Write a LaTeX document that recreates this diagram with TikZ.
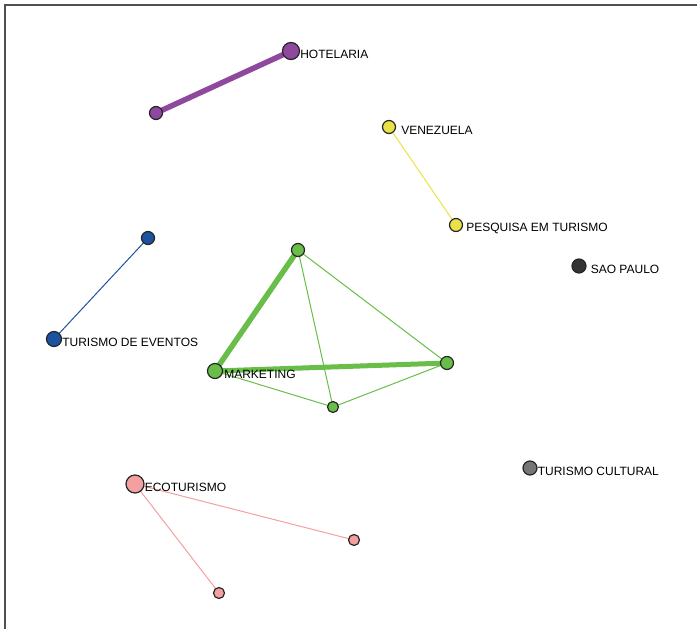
\documentclass[tikz,border=0pt]{standalone}
\usepackage{fontspec}
\setmainfont{Liberation Sans}
\usetikzlibrary{backgrounds}
\definecolor{cpurple}{RGB}{142,72,158}
\definecolor{cgreen}{RGB}{104,190,72}
\definecolor{cyellow}{RGB}{232,228,72}
\definecolor{cblue}{RGB}{28,82,160}
\definecolor{cpink}{RGB}{244,160,160}
\definecolor{cdark}{RGB}{52,52,52}
\definecolor{cgray}{RGB}{118,118,120}
\definecolor{cframe}{RGB}{80,80,80}
\begin{document}
\begin{tikzpicture}[x=1pt,y=-1pt,
  vtx/.style={circle,draw=black!85,line width=1.2pt,inner sep=0pt,minimum size=#1},
  lbl/.style={anchor=west,inner sep=0pt,font=\fontsize{12}{13}\selectfont,yshift=-3pt},
  thin/.style={line width=1pt},
  thick/.style={line width=5.5pt}]
\useasboundingbox (0,0) rectangle (697,629);
\draw[cframe,line width=1.8pt] (5,629) -- (5,5) -- (697,5);
% nodes
\node[vtx=17pt,fill=cpurple] (hot) at (291,51) {};
\node[vtx=13pt,fill=cpurple] (p2) at (156,113) {};
\node[vtx=13pt,fill=cyellow] (ven) at (389,127) {};
\node[vtx=13pt,fill=cyellow] (pes) at (456,225) {};
\node[vtx=14pt,fill=cdark] (sao) at (579,266) {};
\node[vtx=13pt,fill=cblue] (b2) at (148,238) {};
\node[vtx=15pt,fill=cblue] (tev) at (54,339) {};
\node[vtx=13pt,fill=cgreen] (gt) at (298,250) {};
\node[vtx=13pt,fill=cgreen] (gr) at (447,363) {};
\node[vtx=15pt,fill=cgreen] (mkt) at (215,371) {};
\node[vtx=11pt,fill=cgreen] (gb) at (333,407) {};
\node[vtx=18pt,fill=cpink] (eco) at (135,484) {};
\node[vtx=11pt,fill=cpink] (pr) at (354,540) {};
\node[vtx=11pt,fill=cpink] (pb) at (219,593) {};
\node[vtx=14pt,fill=cgray] (tcu) at (530,468) {};
% edges
\begin{scope}[on background layer]
\draw[cpurple,thick] (hot.center) -- (p2.center);
\draw[cyellow,thin] (ven.center) -- (pes.center);
\draw[cblue,thin] (b2.center) -- (tev.center);
\draw[cgreen,thick] (gt.center) -- (mkt.center);
\draw[cgreen,line width=5pt] (mkt.center) -- (gr.center);
\draw[cgreen,thin] (gt.center) -- (gr.center);
\draw[cgreen,thin] (gt.center) -- (gb.center);
\draw[cgreen,thin] (mkt.center) -- (gb.center);
\draw[cgreen,thin] (gb.center) -- (gr.center);
\draw[cpink,thin] (eco.center) -- (pr.center);
\draw[cpink,thin] (eco.center) -- (pb.center);
\end{scope}
% labels
\node[lbl] (lhot) at (hot.east) {HOTELARIA};
\node[lbl,xshift=5pt] (lven) at (ven.east) {VENEZUELA};
\node[lbl,xshift=3pt] (lpes) at (pes.east) {PESQUISA EM TURISMO};
\node[lbl,xshift=4pt] (lsao) at (sao.east) {SAO PAULO};
\node[lbl] (ltev) at (tev.east) {TURISMO DE EVENTOS};
\node[lbl,xshift=1pt] (lmkt) at (mkt.east) {MARKETING};
\node[lbl] (leco) at (eco.east) {ECOTURISMO};
\node[lbl] (ltcu) at (tcu.east) {TURISMO CULTURAL};
\end{tikzpicture}
\end{document}
